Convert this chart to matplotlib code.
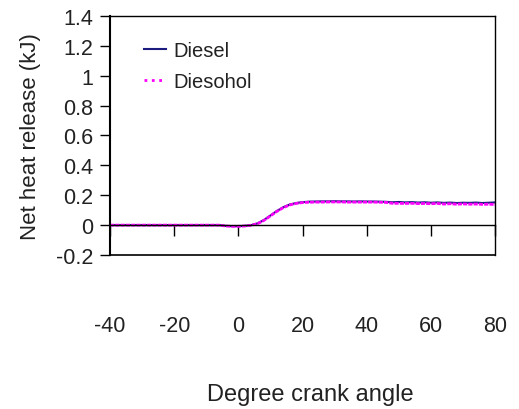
import numpy as np
import matplotlib.pyplot as plt
from matplotlib.lines import Line2D

plt.rcParams['font.family'] = ['Liberation Sans', 'DejaVu Sans']
plt.rcParams['axes.unicode_minus'] = False

# crank angle (deg) and net heat release (kJ)
crank = np.arange(-40, 81, 2)
diesel = [0, 0, 0, 0, 0, 0, 0, 0, 0, 0,
          0, 0, 0, 0, 0, 0, 0, 0, -0.005, -0.007,
          -0.007, -0.005, 0.0, 0.012, 0.035, 0.065, 0.095, 0.12, 0.138, 0.148,
          0.154, 0.157, 0.158, 0.159, 0.159, 0.160, 0.159, 0.159, 0.158, 0.159,
          0.158, 0.158, 0.157, 0.156, 0.153, 0.155, 0.152, 0.154, 0.151, 0.153,
          0.150, 0.152, 0.149, 0.151, 0.148, 0.150, 0.149, 0.151, 0.148, 0.150,
          0.152]
diesohol = [0, 0, 0, 0, 0, 0, 0, 0, 0, 0,
            0, 0, 0, 0, 0, 0, 0, 0, -0.006, -0.008,
            -0.008, -0.006, -0.001, 0.010, 0.032, 0.062, 0.092, 0.117, 0.135, 0.145,
            0.151, 0.153, 0.154, 0.154, 0.155, 0.155, 0.155, 0.154, 0.154, 0.154,
            0.154, 0.154, 0.153, 0.152, 0.146, 0.146, 0.145, 0.146, 0.144, 0.145,
            0.143, 0.145, 0.141, 0.143, 0.140, 0.142, 0.140, 0.141, 0.139, 0.140,
            0.138]

xticks = [-40, -20, 0, 20, 40, 60, 80]
yticks = [-0.2, 0, 0.2, 0.4, 0.6, 0.8, 1, 1.2, 1.4]
ytick_labels = ['-0.2', '0', '0.2', '0.4', '0.6', '0.8', '1', '1.2', '1.4']

txt = '#222222'
c_diesel = '#1c1c80'
c_diesohol = '#ff00ff'

fig = plt.figure(figsize=(5.19, 4.10), dpi=100)
ax = fig.add_axes([0.212, 0.3756, 0.742, 0.583])

ax.plot(crank, diesel, color=c_diesel, lw=1.5)
# dense dots, reads almost solid along the curve
ax.plot(crank, diesohol, color=c_diesohol, lw=2, ls=(0, (1.5, 0.4)))

ax.set_xlim(-40, 80)
ax.set_ylim(-0.2, 1.4)
ax.set_xticks(xticks)
ax.set_yticks(yticks)
ax.set_yticklabels(ytick_labels)

# x axis runs through zero, frame closed at the bottom
ax.spines['bottom'].set_position(('data', 0))
ax.axhline(-0.2, color='black', lw=1.2, clip_on=False)
for s in ['left', 'right', 'top', 'bottom']:
    ax.spines[s].set_linewidth(1.0)
ax.spines['left'].set_linewidth(1.5)

ax.tick_params(axis='x', direction='out', length=8, width=1, pad=57,
               labelsize=15.5, labelcolor=txt)
ax.tick_params(axis='y', direction='out', length=7, width=1, pad=5,
               labelsize=15.5, labelcolor=txt)

ax.set_ylabel('Net heat release (kJ)', fontsize=16, color=txt)
ax.yaxis.set_label_coords(-0.18, 0.5)
fig.text(0.597, 0.037, 'Degree crank angle', fontsize=17, color=txt,
         ha='center', va='center')

handles = [Line2D([], [], color=c_diesel, lw=1.5),
           Line2D([], [], color=c_diesohol, lw=2, ls=':')]
ax.legend(handles, ['Diesel', 'Diesohol'], loc='upper left',
          bbox_to_anchor=(0.04, 0.97), frameon=False,
          fontsize=14.5, handlelength=1.1, handletextpad=0.4,
          labelspacing=0.6, labelcolor=txt)

fig.savefig('out.png', dpi=100)
